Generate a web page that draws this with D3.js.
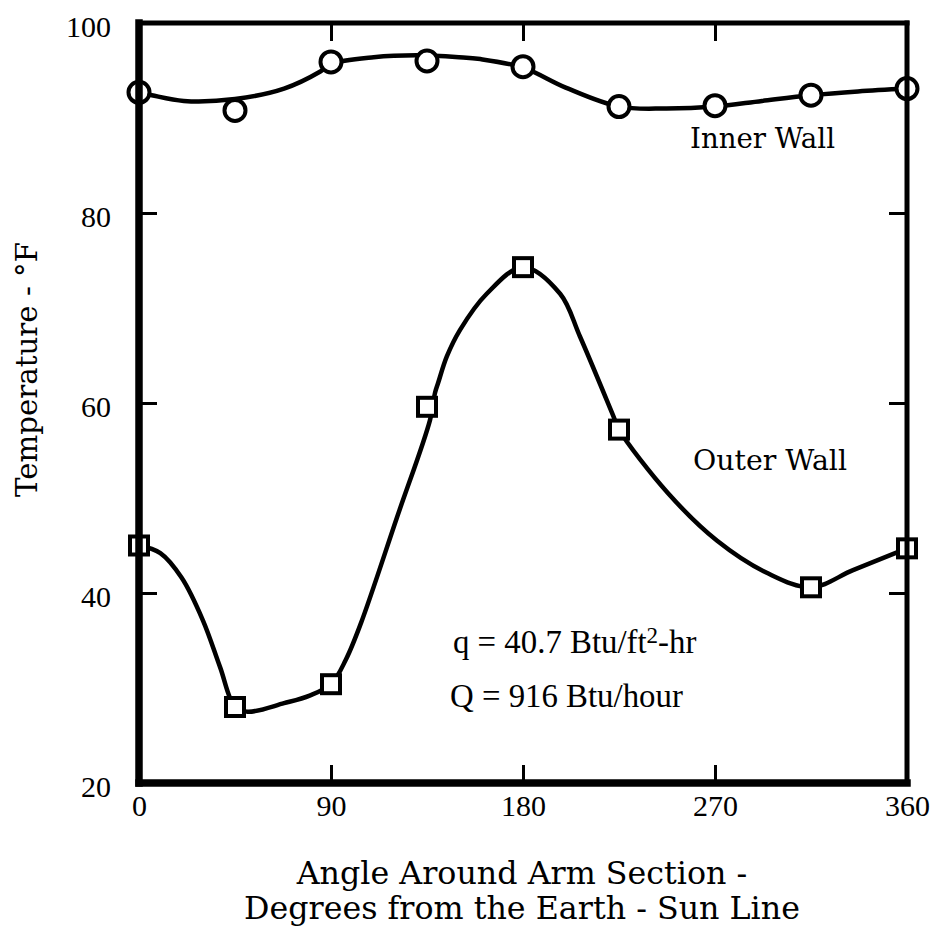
<!DOCTYPE html>
<html><head><meta charset="utf-8">
<script src="https://cdn.jsdelivr.net/npm/d3@7"></script>
<style>body{margin:0;background:#fff}</style>
</head><body>
<svg id="chart" width="936" height="928"></svg>
<script>
// Wall temperatures measured at stations around the arm section
const innerAngles = [0, 45, 90, 135, 180, 225, 270, 315, 360];
const innerWallTemps = [92.7, 90.8, 95.9, 96.0, 95.4, 91.2, 91.3, 92.4, 93.1];
const outerAngles = [0, 45, 90, 135, 180, 225, 315, 360];
const outerWallTemps = [45.0, 28.0, 30.4, 59.6, 74.3, 57.2, 40.6, 44.7];

// Faired curves drawn through the measurements
const innerCurveAngles = [0, 6, 21, 45, 68, 85, 90, 110, 130, 150, 160, 180, 200, 225, 247, 270, 292, 315, 337, 360];
const innerCurveTemps = [92.7, 92.4, 91.8, 92.0, 93.1, 94.9, 95.7, 96.4, 96.6, 96.4, 96.2, 95.3, 93.2, 91.2, 91.0, 91.2, 91.8, 92.4, 92.8, 93.1];
const outerCurveAngles = [0, 10, 20, 30, 38, 45, 51, 68, 80, 90, 97, 104, 121, 136.4, 138.8, 140.2, 144.3, 150.5, 163, 180, 197.4, 206.7, 222.4, 225, 248, 271, 294.5, 315, 334.7, 360];
const outerCurveTemps = [45.0, 44.2, 41.6, 37.1, 32.2, 28.0, 27.5, 28.4, 29.2, 30.4, 33.0, 36.8, 48.0, 58.2, 61.1, 62.1, 64.9, 67.7, 71.5, 74.3, 71.5, 67.0, 58.6, 57.2, 50.5, 45.5, 42.1, 40.6, 42.4, 44.7];

// Axis ticks
const xTicks = [0, 90, 180, 270, 360];
const yTicks = [20, 40, 60, 80, 100];

const svg = d3.select("#chart");
const x = d3.scaleLinear().domain([0, 360]).range([139, 907]);
const y = d3.scaleLinear().domain([20, 100]).range([783, 23]);

const numFont = "'Liberation Serif', serif";
const textFont = "'DejaVu Serif', serif";

// Size a text element so that it spans a given width; returns the size used
function fit(sel, width) {
  const fs = parseFloat(sel.attr("font-size"));
  const w = sel.node().getComputedTextLength();
  const size = +(fs * width / w).toFixed(2);
  sel.attr("font-size", size);
  return size;
}

// Curves
const line = d3.line().x(d => x(d[0])).y(d => y(d[1])).curve(d3.curveCatmullRom.alpha(0.5));
svg.append("path")
  .attr("d", line(innerCurveAngles.map((a, i) => [a, innerCurveTemps[i]])))
  .attr("fill", "none").attr("stroke", "#000").attr("stroke-width", 4.5);
svg.append("path")
  .attr("d", line(outerCurveAngles.map((a, i) => [a, outerCurveTemps[i]])))
  .attr("fill", "none").attr("stroke", "#000").attr("stroke-width", 4.5);

// Markers
svg.append("g").selectAll("circle")
  .data(innerAngles.map((a, i) => [a, innerWallTemps[i]]))
  .join("circle")
  .attr("cx", d => x(d[0])).attr("cy", d => y(d[1])).attr("r", 10.5)
  .attr("fill", "#fff").attr("stroke", "#000").attr("stroke-width", 4);
const sq = 18;
svg.append("g").selectAll("rect")
  .data(outerAngles.map((a, i) => [a, outerWallTemps[i]]))
  .join("rect")
  .attr("x", d => x(d[0]) - sq / 2).attr("y", d => y(d[1]) - sq / 2)
  .attr("width", sq).attr("height", sq)
  .attr("fill", "#fff").attr("stroke", "#000").attr("stroke-width", 4);

// Frame
const [x0, x1] = x.range();
const [yb, yt] = y.range();
const frame = svg.append("g").attr("stroke", "#000").attr("stroke-linecap", "square");
frame.append("line").attr("x1", x0).attr("x2", x1).attr("y1", yt).attr("y2", yt).attr("stroke-width", 5);
frame.append("line").attr("x1", x1).attr("x2", x1).attr("y1", yt).attr("y2", yb).attr("stroke-width", 5);
frame.append("line").attr("x1", x0).attr("x2", x1).attr("y1", yb).attr("y2", yb).attr("stroke-width", 7.5);
frame.append("line").attr("x1", x0).attr("x2", x0).attr("y1", yt).attr("y2", yb).attr("stroke-width", 7.5);

// Axes with inward ticks
const tick = 18;
function styleAxis(g) {
  g.select(".domain").remove();
  g.selectAll(".tick line").attr("stroke", "#000").attr("stroke-width", 3);
}
const innerX = xTicks.slice(1, -1), innerY = yTicks.slice(1, -1);

const gb = svg.append("g").attr("transform", `translate(0,${yb})`)
  .call(d3.axisBottom(x).tickValues(xTicks).tickSize(-tick).tickPadding(12).tickFormat(d3.format("d")))
  .call(styleAxis);
gb.selectAll(".tick line").filter(d => d === 0 || d === 360).remove();
gb.selectAll(".tick text").attr("font-family", numFont).attr("font-size", 30).attr("fill", "#000");

svg.append("g").attr("transform", `translate(0,${yt})`)
  .call(d3.axisTop(x).tickValues(innerX).tickSize(-tick).tickFormat(""))
  .call(styleAxis);

const gl = svg.append("g").attr("transform", `translate(${x0},0)`)
  .call(d3.axisLeft(y).tickValues(yTicks).tickSize(-tick).tickPadding(28).tickFormat(d3.format("d")))
  .call(styleAxis);
gl.selectAll(".tick line").filter(d => d === 20 || d === 100).remove();
gl.selectAll(".tick text").attr("font-family", numFont).attr("font-size", 30).attr("fill", "#000").attr("dy", "0.45em");

svg.append("g").attr("transform", `translate(${x1},0)`)
  .call(d3.axisRight(y).tickValues(innerY).tickSize(-tick).tickFormat(""))
  .call(styleAxis);

// Series labels
const t1 = svg.append("text").attr("x", 690).attr("y", 148)
  .attr("font-family", textFont).attr("font-size", 26).text("Inner Wall");
fit(t1, 145);
const t2 = svg.append("text").attr("x", 693).attr("y", 470)
  .attr("font-family", textFont).attr("font-size", 26).text("Outer Wall");
fit(t2, 154);

// Heat flux annotations, both lines at one size
const q2 = svg.append("text").attr("x", 450).attr("y", 707)
  .attr("font-family", numFont).attr("font-size", 29).text("Q = 916 Btu/hour");
const qSize = fit(q2, 233);
const q1 = svg.append("text").attr("x", 453).attr("y", 653)
  .attr("font-family", numFont).attr("font-size", qSize);
q1.append("tspan").text("q = 40.7 Btu/ft");
q1.append("tspan").attr("font-size", "0.7em").attr("dy", "-0.45em").text("2");
q1.append("tspan").attr("dy", "0.32em").text("-hr");

// Axis titles, both lines at one size and centred under the plot
const cx = (x0 + x1) / 2 - 1;
const xt2 = svg.append("text").attr("x", cx).attr("y", 919).attr("text-anchor", "middle")
  .attr("font-family", textFont).attr("font-size", 24).text("Degrees from the Earth - Sun Line");
const tSize = fit(xt2, 556);
svg.append("text").attr("x", cx).attr("y", 884).attr("text-anchor", "middle")
  .attr("font-family", textFont).attr("font-size", tSize).text("Angle Around Arm Section -");
const yt1 = svg.append("text").attr("transform", "translate(37,497) rotate(-90)")
  .attr("font-family", textFont).attr("font-size", 26).text("Temperature - °F");
fit(yt1, 255);
</script>
</body></html>
